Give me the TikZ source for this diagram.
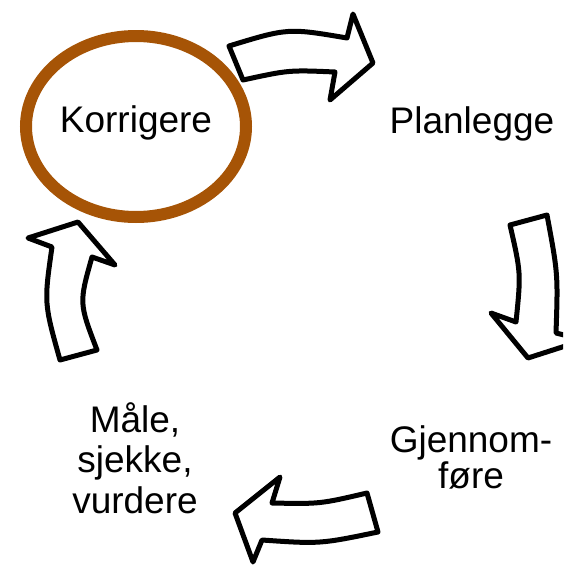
\documentclass[tikz,border=0pt]{standalone}
\usepackage{fontspec}
\setmainfont{Liberation Sans}
\usepackage{tikz}
\usetikzlibrary{positioning,calc}
\definecolor{korrbrown}{RGB}{166,84,6}
\tikzset{>=stealth}

\begin{document}
\begin{tikzpicture}[x=1pt,y=-1pt,
  bigarrow/.style={draw=black,fill=white,line width=5pt,line join=round},
  steptext/.style={font=\fontsize{37}{40.5}\selectfont,align=center,inner sep=0pt,anchor=base}]
\useasboundingbox (0,0) rectangle (563,565);
\clip (0,0) rectangle (563,565);
% Picture is 563 x 565

% Coordinates of the four steps (base of last line)
\coordinate (K) at (136,126.5);
\coordinate (P) at (472,133);
\coordinate (G) at (471,488);
\coordinate (M) at (135,513);

% Curved block arrows, clockwise
\draw[bigarrow] (229,46) .. controls (288,28) .. (347,38) -- (353,14) -- (373,63)
  -- (330,100) -- (335,72) .. controls (289,70) .. (243,80) -- cycle;
\draw[bigarrow] (510,225) -- (547,215) .. controls (558,274) .. (556,333) -- (584,340)
  -- (528,358) -- (491,313) -- (516,322) .. controls (521,273) .. (510,225) -- cycle;
\draw[bigarrow] (367,493) -- (378,532) .. controls (320,544) .. (262,540) -- (253,562)
  -- (235,513) -- (280,477) -- (272,503) .. controls (320,504) .. (367,493) -- cycle;
\draw[bigarrow] (60,360) -- (97,350) .. controls (79,303) .. (92,257) -- (115,265)
  -- (78,222) -- (28,238) -- (52,247) .. controls (44,303) .. (60,360) -- cycle;

% Ring round the current step
\draw[korrbrown,line width=12pt] (K) ellipse [x radius=110,y radius=90.5];

% Labels
\node[steptext] (korr) at (136,132) {Korrigere};
\node[steptext] (plan) at (P) {Planlegge};
\node[steptext,font=\fontsize{37}{36}\selectfont] (gjen) at (G) {Gjennom-\\føre};
\node[steptext] (male) at (M) {Måle,\\sjekke,\\vurdere};

\end{tikzpicture}
\end{document}
